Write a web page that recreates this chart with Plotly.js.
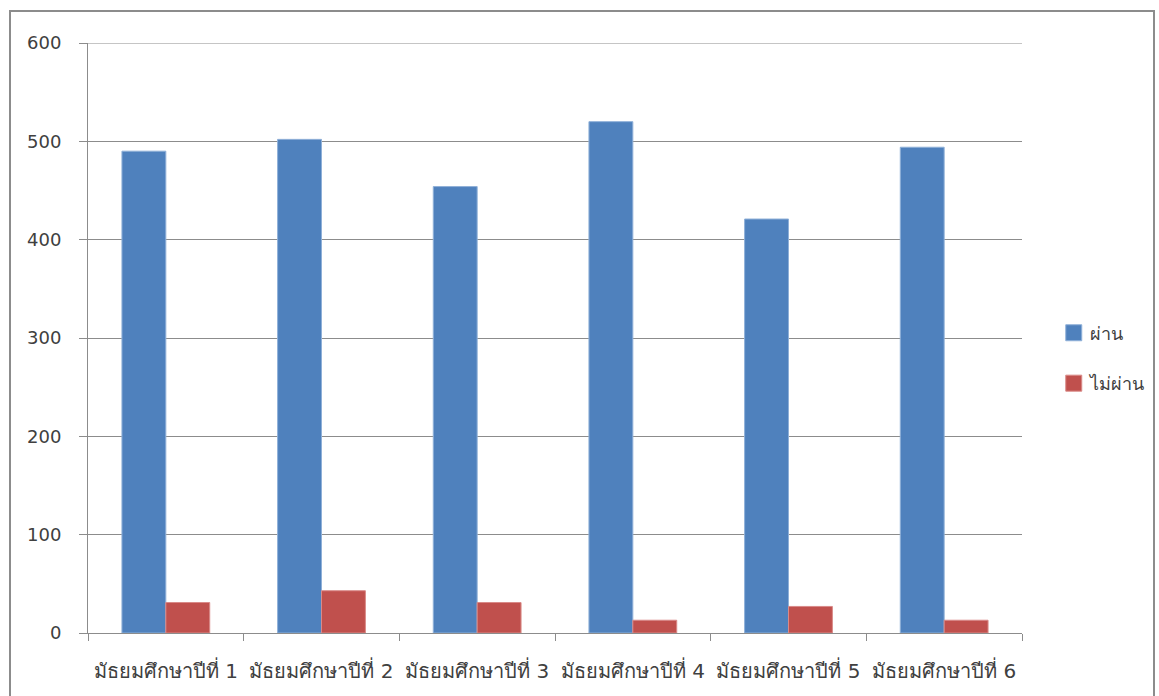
<!DOCTYPE html>
<html>
<head>
<meta charset="utf-8">
<script src="https://cdn.plot.ly/plotly-3.0.1.min.js"></script>
<style>
  html, body { margin: 0; padding: 0; background: #fff; }
  #chart { position: absolute; left: 0; top: 0; width: 1159px; height: 696px; }
  #frame { position: absolute; left: 9px; top: 10px; width: 1146px; height: 700px;
           border: 2px solid #8c8c8c; pointer-events: none; box-sizing: border-box; }
</style>
</head>
<body>
<div id="chart"></div>
<div id="frame"></div>
<script>
const categories = ["มัธยมศึกษาปีที่ 1", "มัธยมศึกษาปีที่ 2", "มัธยมศึกษาปีที่ 3",
                    "มัธยมศึกษาปีที่ 4", "มัธยมศึกษาปีที่ 5", "มัธยมศึกษาปีที่ 6"];
const passed = [490, 502, 454, 520, 421, 494];
const failed = [31, 43, 31, 13, 27, 13];
const seriesNames = ["ผ่าน", "ไม่ผ่าน"];
const yTicks = [0, 100, 200, 300, 400, 500, 600];

const font = "Tahoma, 'DejaVu Sans', 'Noto Sans', sans-serif";
const gridCol = "#8c8c8c";

const traces = [
  { type: "bar", name: seriesNames[0], legendgroup: "a", x: categories, y: passed,
    marker: { color: "#4F81BD", line: { color: "#8fb0d8", width: 1 } } },
  { type: "bar", name: seriesNames[1], legendgroup: "b", x: categories, y: failed,
    marker: { color: "#C0504D", line: { color: "#d98a88", width: 1 } } }
];

const layout = {
  width: 1159, height: 696,
  margin: { l: 88, r: 137, t: 43, b: 63, autoexpand: false },
  paper_bgcolor: "#ffffff", plot_bgcolor: "#ffffff",
  font: { family: font, size: 18, color: "#404040" },
  barmode: "group", bargap: 0.436, bargroupgap: 0,
  showlegend: true,
  legend: { x: 1.034, y: 0.466, yanchor: "middle", xanchor: "left",
            font: { size: 18, color: "#404040" }, tracegroupgap: 24,
            itemwidth: 30, bgcolor: "rgba(0,0,0,0)" },
  xaxis: {
    type: "category", showgrid: false, showline: true, linecolor: gridCol, linewidth: 1,
    ticks: "outside", tickson: "boundaries", ticklen: 7, tickcolor: gridCol,
    tickfont: { size: 20, color: "#404040" }, zeroline: false, ticklabelstandoff: 20
  },
  yaxis: {
    range: [0, 600], tickvals: yTicks, ticktext: yTicks.map(String),
    showgrid: true, gridcolor: gridCol, gridwidth: 1,
    showline: true, linecolor: gridCol, linewidth: 1,
    ticks: "outside", ticklen: 8, tickcolor: gridCol,
    tickfont: { size: 18, color: "#404040" }, zeroline: false, ticklabelstandoff: 14
  },
  shapes: [
    { type: "line", xref: "paper", yref: "y", x0: 0, x1: 1, y0: yTicks[yTicks.length - 1],
      y1: yTicks[yTicks.length - 1], line: { color: gridCol, width: 1 }, layer: "below" }
  ]
};

Plotly.newPlot("chart", traces, layout, { displayModeBar: false, staticPlot: true }).then(function (gd) {
  gd.querySelectorAll(".legend .legendpoints path").forEach(function (p) {
    p.setAttribute("d", "M8,8H-8V-8H8Z");
  });
  gd.querySelectorAll(".legend text.legendtext").forEach(function (t) {
    const x = parseFloat(t.getAttribute("x")) || 0;
    t.setAttribute("x", x - 4);
  });
});
</script>
</body>
</html>
